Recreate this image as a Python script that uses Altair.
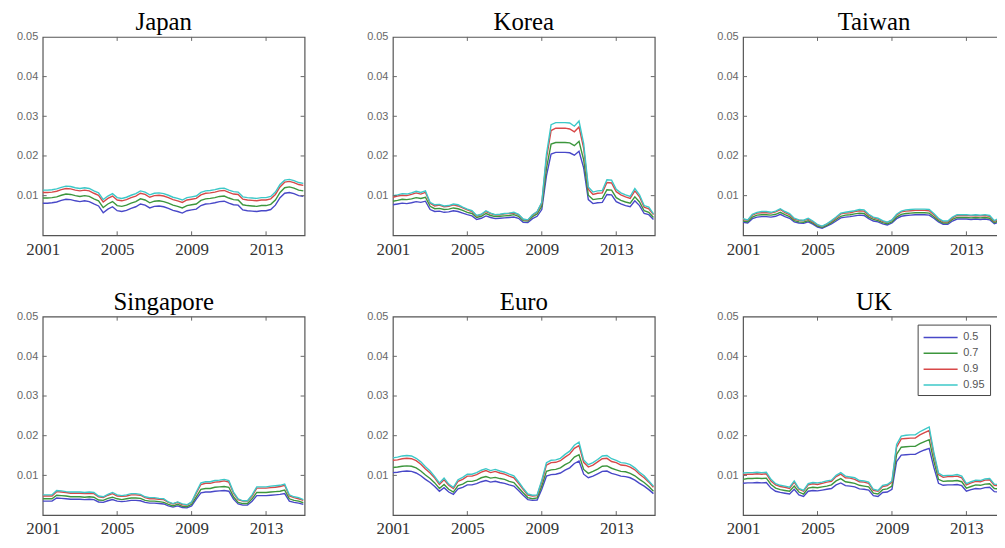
import altair as alt
import pandas as pd

# ---- time index (quarterly readings, 2001.00 ... 2015.00) ----
YEARS = [2001 + 0.25 * i for i in range(57)]
QUANTILES = ["0.5", "0.7", "0.9", "0.95"]
COLORS = ["#4848c8", "#3c963c", "#d84848", "#3cc8c8"]

X_LABELS = [2001, 2005, 2009, 2013]
X_INNER_TICKS = [2005, 2009, 2013]
Y_LABELS = [0.01, 0.02, 0.03, 0.04, 0.05]
Y_INNER_TICKS = [0.01, 0.02, 0.03, 0.04]

# ---- values, in units of 0.001 ----
JAPAN_50 = [8.1, 8.1, 8.2, 8.4, 8.8, 9.1, 9.0, 8.7, 8.5, 8.7,
            8.5, 7.9, 7.4, 5.7, 6.6, 7.2, 6.2, 6.0, 6.3, 6.8,
            7.2, 7.9, 7.6, 6.9, 7.3, 7.4, 7.2, 6.8, 6.3, 6.0,
            5.6, 6.2, 6.4, 6.6, 7.5, 7.9, 8.0, 8.2, 8.5, 8.6,
            8.1, 7.7, 7.6, 6.4, 6.2, 6.1, 6.0, 6.2, 6.2, 6.5,
            7.6, 9.5, 10.6, 10.8, 10.5, 10.0, 9.8]
JAPAN_70 = [9.4, 9.4, 9.5, 9.7, 10.1, 10.4, 10.3, 10.0, 9.8, 10.0,
            9.8, 9.2, 8.7, 7.0, 7.9, 8.5, 7.5, 7.3, 7.6, 8.1,
            8.5, 9.2, 8.9, 8.2, 8.6, 8.7, 8.5, 8.1, 7.6, 7.3,
            6.9, 7.5, 7.7, 7.9, 8.8, 9.2, 9.3, 9.5, 9.8, 9.9,
            9.4, 9.0, 8.9, 7.7, 7.5, 7.4, 7.3, 7.5, 7.5, 7.8,
            8.9, 10.8, 12.0, 12.2, 11.9, 11.4, 11.2]
JAPAN_90 = [10.8, 10.8, 10.9, 11.1, 11.5, 11.8, 11.7, 11.4, 11.2, 11.4,
            11.2, 10.6, 10.1, 8.4, 9.3, 9.9, 8.9, 8.7, 9.0, 9.5,
            9.9, 10.6, 10.3, 9.6, 10.0, 10.1, 9.9, 9.5, 9.0, 8.7,
            8.3, 8.9, 9.1, 9.3, 10.2, 10.6, 10.7, 10.9, 11.2, 11.3,
            10.8, 10.4, 10.3, 9.1, 8.9, 8.8, 8.7, 8.9, 8.9, 9.2,
            10.3, 12.2, 13.4, 13.6, 13.3, 12.8, 12.6]
JAPAN_95 = [11.4, 11.4, 11.5, 11.7, 12.1, 12.4, 12.3, 12.0, 11.8, 12.0,
            11.8, 11.2, 10.7, 9.0, 9.9, 10.5, 9.5, 9.3, 9.6, 10.1,
            10.5, 11.2, 10.9, 10.2, 10.6, 10.7, 10.5, 10.1, 9.6, 9.3,
            8.9, 9.5, 9.7, 9.9, 10.8, 11.2, 11.3, 11.5, 11.8, 11.9,
            11.4, 11.0, 10.9, 9.7, 9.5, 9.4, 9.3, 9.5, 9.5, 9.8,
            10.9, 12.8, 13.9, 14.1, 13.8, 13.3, 13.1]

KOREA_50 = [7.7, 7.9, 8.1, 8.0, 8.2, 8.5, 8.3, 8.6, 6.5, 6.0,
            6.1, 5.8, 5.9, 6.2, 6.0, 5.6, 5.2, 4.9, 4.0, 4.3,
            4.9, 4.5, 4.2, 4.3, 4.4, 4.5, 4.6, 4.3, 3.3, 3.2,
            4.2, 4.8, 6.5, 15.0, 20.5, 20.9, 20.9, 20.9, 20.8, 20.2,
            21.2, 17.0, 9.0, 8.0, 8.2, 8.3, 10.3, 10.2, 8.5, 7.9,
            7.5, 7.2, 8.7, 7.5, 5.5, 5.2, 4.0]
KOREA_70 = [8.6, 8.8, 9.1, 9.0, 9.2, 9.5, 9.3, 9.6, 7.3, 6.7,
            6.8, 6.5, 6.6, 6.9, 6.7, 6.3, 5.8, 5.5, 4.5, 4.8,
            5.5, 5.0, 4.7, 4.8, 4.9, 5.0, 5.2, 4.8, 3.7, 3.6,
            4.7, 5.4, 7.3, 16.8, 23.0, 23.4, 23.4, 23.4, 23.3, 22.6,
            23.7, 19.0, 10.1, 9.0, 9.2, 9.3, 11.5, 11.4, 9.5, 8.8,
            8.4, 8.1, 9.7, 8.4, 6.2, 5.8, 4.5]
KOREA_90 = [9.6, 9.9, 10.1, 10.0, 10.3, 10.7, 10.4, 10.8, 8.1, 7.4,
            7.6, 7.2, 7.3, 7.7, 7.4, 6.9, 6.4, 6.0, 4.9, 5.2,
            6.0, 5.5, 5.1, 5.2, 5.4, 5.5, 5.6, 5.2, 4.0, 3.8,
            5.1, 5.9, 8.1, 19.4, 26.4, 27.0, 27.0, 27.0, 26.8, 26.1,
            27.3, 21.9, 11.6, 10.3, 10.6, 10.7, 13.3, 13.2, 11.0, 10.2,
            9.7, 9.3, 11.2, 9.7, 7.1, 6.7, 5.2]
KOREA_95 = [10.0, 10.2, 10.5, 10.4, 10.7, 11.1, 10.8, 11.2, 8.3, 7.7,
            7.8, 7.4, 7.5, 7.9, 7.7, 7.1, 6.6, 6.2, 5.0, 5.3,
            6.2, 5.6, 5.2, 5.3, 5.5, 5.6, 5.8, 5.3, 4.1, 3.9,
            5.2, 6.0, 8.3, 20.4, 27.9, 28.4, 28.4, 28.4, 28.3, 27.5,
            28.8, 23.1, 12.2, 10.9, 11.2, 11.3, 14.0, 13.9, 11.6, 10.7,
            10.2, 9.8, 11.8, 10.2, 7.5, 7.1, 5.4]

TAIWAN_50 = [3.3, 3.1, 4.2, 4.6, 4.7, 4.7, 4.6, 4.8, 5.3, 4.7,
             4.3, 3.4, 3.1, 3.0, 3.4, 2.8, 2.1, 1.8, 2.3, 2.9,
             3.6, 4.4, 4.6, 4.7, 4.9, 5.1, 5.0, 4.2, 3.6, 3.4,
             2.9, 2.6, 3.1, 4.2, 4.8, 5.0, 5.1, 5.2, 5.2, 5.2,
             5.1, 4.3, 3.4, 2.8, 2.8, 3.6, 4.1, 4.1, 4.1, 4.0,
             4.1, 4.0, 4.1, 3.9, 2.9, 3.4, 3.6]
TAIWAN_70 = [3.6, 3.4, 4.6, 5.1, 5.2, 5.2, 5.1, 5.3, 5.8, 5.2,
             4.7, 3.7, 3.4, 3.3, 3.7, 3.1, 2.3, 2.0, 2.5, 3.2,
             4.0, 4.8, 5.1, 5.2, 5.4, 5.6, 5.5, 4.6, 4.0, 3.7,
             3.2, 2.9, 3.4, 4.6, 5.3, 5.5, 5.6, 5.7, 5.7, 5.7,
             5.6, 4.7, 3.7, 3.1, 3.1, 4.0, 4.5, 4.5, 4.5, 4.4,
             4.5, 4.4, 4.5, 4.3, 3.2, 3.7, 4.0]
TAIWAN_90 = [4.0, 3.8, 5.1, 5.6, 5.7, 5.7, 5.6, 5.9, 6.5, 5.7,
             5.2, 4.1, 3.8, 3.7, 4.1, 3.4, 2.6, 2.2, 2.8, 3.5,
             4.4, 5.4, 5.6, 5.7, 6.0, 6.2, 6.1, 5.1, 4.4, 4.1,
             3.5, 3.2, 3.8, 5.1, 5.9, 6.1, 6.2, 6.3, 6.3, 6.3,
             6.2, 5.2, 4.1, 3.4, 3.4, 4.4, 5.0, 5.0, 5.0, 4.9,
             5.0, 4.9, 5.0, 4.8, 3.5, 4.1, 4.4]
TAIWAN_95 = [4.2, 3.9, 5.3, 5.8, 6.0, 6.0, 5.8, 6.1, 6.7, 6.0,
             5.5, 4.3, 3.9, 3.8, 4.3, 3.6, 2.7, 2.3, 2.9, 3.7,
             4.6, 5.6, 5.8, 6.0, 6.2, 6.5, 6.4, 5.3, 4.6, 4.3,
             3.7, 3.3, 3.9, 5.3, 6.1, 6.4, 6.5, 6.6, 6.6, 6.6,
             6.5, 5.5, 4.3, 3.6, 3.6, 4.6, 5.2, 5.2, 5.2, 5.1,
             5.2, 5.1, 5.2, 5.0, 3.7, 4.3, 4.6]

SINGAPORE_50 = [3.5, 3.5, 3.5, 4.3, 4.2, 4.1, 4.0, 4.0, 4.0, 3.9,
                4.0, 3.9, 3.3, 3.2, 3.6, 3.9, 3.5, 3.4, 3.5, 3.7,
                3.7, 3.6, 3.2, 3.0, 3.0, 2.9, 2.8, 2.3, 2.0, 2.3,
                1.9, 1.8, 2.3, 4.0, 5.6, 5.8, 5.8, 6.0, 6.1, 6.2,
                6.0, 4.0, 2.8, 2.5, 2.5, 3.5, 4.9, 4.9, 4.9, 5.0,
                5.1, 5.2, 5.4, 3.5, 3.2, 3.0, 2.7]
SINGAPORE_70 = [4.1, 4.1, 4.1, 5.0, 4.9, 4.8, 4.6, 4.6, 4.6, 4.5,
                4.6, 4.5, 3.8, 3.7, 4.2, 4.5, 4.1, 3.9, 4.1, 4.3,
                4.3, 4.2, 3.7, 3.5, 3.5, 3.4, 3.2, 2.7, 2.3, 2.7,
                2.2, 2.1, 2.7, 4.6, 6.5, 6.7, 6.7, 7.0, 7.1, 7.2,
                7.0, 4.6, 3.2, 2.9, 2.9, 4.1, 5.7, 5.7, 5.7, 5.8,
                5.9, 6.0, 6.3, 4.1, 3.7, 3.5, 3.1]
SINGAPORE_90 = [4.8, 4.8, 4.8, 5.9, 5.8, 5.7, 5.5, 5.5, 5.5, 5.4,
                5.5, 5.4, 4.6, 4.4, 5.0, 5.4, 4.8, 4.7, 4.8, 5.1,
                5.1, 5.0, 4.4, 4.1, 4.1, 4.0, 3.9, 3.2, 2.8, 3.2,
                2.6, 2.5, 3.2, 5.5, 7.7, 8.0, 8.0, 8.3, 8.4, 8.6,
                8.3, 5.5, 3.9, 3.5, 3.5, 4.8, 6.8, 6.8, 6.8, 6.9,
                7.0, 7.2, 7.5, 4.8, 4.4, 4.1, 3.7]
SINGAPORE_95 = [5.1, 5.1, 5.1, 6.2, 6.1, 5.9, 5.8, 5.8, 5.8, 5.7,
                5.8, 5.7, 4.8, 4.6, 5.2, 5.7, 5.1, 4.9, 5.1, 5.4,
                5.4, 5.2, 4.6, 4.4, 4.4, 4.2, 4.1, 3.3, 2.9, 3.3,
                2.8, 2.6, 3.3, 5.8, 8.1, 8.4, 8.4, 8.7, 8.8, 9.0,
                8.7, 5.8, 4.1, 3.6, 3.6, 5.1, 7.1, 7.1, 7.1, 7.3,
                7.4, 7.5, 7.8, 5.1, 4.6, 4.4, 3.9]

EURO_50 = [10.7, 10.8, 11.0, 11.1, 11.0, 10.6, 9.9, 9.0, 8.2, 7.2,
           6.0, 6.9, 5.8, 5.2, 6.6, 7.0, 7.6, 7.6, 7.9, 8.4,
           8.7, 8.3, 8.5, 8.2, 8.0, 7.6, 7.3, 6.2, 5.0, 3.9,
           3.7, 3.8, 6.5, 9.8, 10.2, 10.3, 10.6, 11.3, 11.9, 13.0,
           13.6, 10.3, 9.4, 9.8, 10.4, 11.0, 11.1, 10.5, 10.2, 9.8,
           9.7, 9.4, 8.8, 8.0, 7.3, 6.4, 5.4]
EURO_70 = [12.0, 12.1, 12.3, 12.4, 12.3, 11.9, 11.1, 10.1, 9.2, 8.1,
           6.7, 7.7, 6.5, 5.8, 7.4, 7.8, 8.5, 8.5, 8.8, 9.4,
           9.7, 9.3, 9.5, 9.2, 9.0, 8.5, 8.2, 6.9, 5.6, 4.4,
           4.1, 4.3, 7.3, 11.0, 11.4, 11.5, 11.9, 12.7, 13.3, 14.6,
           15.2, 11.5, 10.5, 11.0, 11.6, 12.3, 12.4, 11.8, 11.4, 11.0,
           10.9, 10.5, 9.9, 9.0, 8.2, 7.2, 6.0]
EURO_90 = [13.8, 13.9, 14.2, 14.3, 14.2, 13.7, 12.8, 11.6, 10.6, 9.3,
           7.7, 8.9, 7.5, 6.7, 8.5, 9.0, 9.8, 9.8, 10.2, 10.8,
           11.2, 10.7, 11.0, 10.6, 10.3, 9.8, 9.4, 8.0, 6.5, 5.0,
           4.8, 4.9, 8.4, 12.6, 13.2, 13.3, 13.7, 14.6, 15.4, 16.8,
           17.5, 13.3, 12.1, 12.6, 13.4, 14.2, 14.3, 13.5, 13.2, 12.6,
           12.5, 12.1, 11.4, 10.3, 9.4, 8.3, 7.0]
EURO_95 = [14.4, 14.6, 14.9, 15.0, 14.9, 14.3, 13.4, 12.2, 11.1, 9.7,
           8.1, 9.3, 7.8, 7.0, 8.9, 9.5, 10.3, 10.3, 10.7, 11.3,
           11.7, 11.2, 11.5, 11.1, 10.8, 10.3, 9.9, 8.4, 6.8, 5.3,
           5.0, 5.1, 8.8, 13.2, 13.8, 13.9, 14.3, 15.3, 16.1, 17.6,
           18.4, 13.9, 12.7, 13.2, 14.0, 14.9, 15.0, 14.2, 13.8, 13.2,
           13.1, 12.7, 11.9, 10.8, 9.9, 8.6, 7.3]

UK_50 = [8.0, 8.1, 8.1, 8.2, 8.1, 8.2, 6.8, 6.0, 5.7, 5.5,
         5.3, 6.5, 5.1, 4.7, 6.0, 6.2, 6.1, 6.3, 6.5, 6.7,
         7.6, 8.1, 7.4, 7.3, 7.1, 6.6, 6.5, 6.3, 4.9, 4.7,
         5.7, 5.8, 6.5, 13.5, 15.1, 15.2, 15.3, 15.3, 15.9, 16.4,
         16.8, 12.0, 8.0, 7.5, 7.6, 7.6, 7.7, 7.4, 6.0, 6.4,
         6.7, 6.6, 6.9, 7.0, 5.9, 5.8, 5.8]
UK_70 = [9.0, 9.2, 9.2, 9.3, 9.2, 9.3, 7.7, 6.8, 6.4, 6.2,
         6.0, 7.3, 5.8, 5.3, 6.8, 7.0, 6.9, 7.1, 7.3, 7.6,
         8.6, 9.2, 8.4, 8.2, 8.0, 7.5, 7.3, 7.1, 5.5, 5.3,
         6.4, 6.6, 7.3, 15.3, 17.1, 17.2, 17.3, 17.3, 18.0, 18.5,
         19.0, 13.6, 9.0, 8.5, 8.6, 8.6, 8.7, 8.4, 6.8, 7.2,
         7.6, 7.5, 7.8, 7.9, 6.7, 6.6, 6.6]
UK_90 = [10.2, 10.3, 10.3, 10.4, 10.3, 10.4, 8.6, 7.6, 7.2, 7.0,
         6.7, 8.3, 6.5, 6.0, 7.6, 7.9, 7.7, 8.0, 8.3, 8.5,
         9.7, 10.3, 9.4, 9.3, 9.0, 8.4, 8.3, 8.0, 6.2, 6.0,
         7.2, 7.4, 8.3, 17.1, 19.2, 19.3, 19.4, 19.4, 20.2, 20.8,
         21.3, 15.2, 10.2, 9.5, 9.7, 9.7, 9.8, 9.4, 7.6, 8.1,
         8.5, 8.4, 8.8, 8.9, 7.5, 7.4, 7.4]
UK_95 = [10.6, 10.7, 10.7, 10.8, 10.7, 10.8, 9.0, 7.9, 7.5, 7.3,
         7.0, 8.6, 6.7, 6.2, 7.9, 8.2, 8.1, 8.3, 8.6, 8.8,
         10.0, 10.7, 9.8, 9.6, 9.4, 8.7, 8.6, 8.3, 6.5, 6.2,
         7.5, 7.7, 8.6, 17.8, 19.9, 20.1, 20.2, 20.2, 21.0, 21.6,
         22.2, 15.8, 10.6, 9.9, 10.0, 10.0, 10.2, 9.8, 7.9, 8.4,
         8.8, 8.7, 9.1, 9.2, 7.8, 7.7, 7.7]

PANELS = [
    ("Japan", [JAPAN_50, JAPAN_70, JAPAN_90, JAPAN_95]),
    ("Korea", [KOREA_50, KOREA_70, KOREA_90, KOREA_95]),
    ("Taiwan", [TAIWAN_50, TAIWAN_70, TAIWAN_90, TAIWAN_95]),
    ("Singapore", [SINGAPORE_50, SINGAPORE_70, SINGAPORE_90, SINGAPORE_95]),
    ("Euro", [EURO_50, EURO_70, EURO_90, EURO_95]),
    ("UK", [UK_50, UK_70, UK_90, UK_95]),
]

# ---- layout / style ----
W, H = 264, 200
X_DOMAIN = [2001, 2015.07]
Y_DOMAIN = [0, 0.05]
TICK_COLOR = "#666666"
TICK_LEN = 4
SERIF = "Liberation Serif, Times New Roman, serif"
SANS = "Liberation Sans, Arial, sans-serif"

X_SCALE = alt.Scale(domain=X_DOMAIN, nice=False, zero=False)
Y_SCALE = alt.Scale(domain=Y_DOMAIN, nice=False, zero=False)

X_AXIS = alt.Axis(values=X_LABELS, format="d", title=None, grid=False,
                  ticks=False, domain=False, labelFlush=False,
                  labelOverlap=False, labelFont=SERIF,
                  labelFontSize=17, labelColor="#333333",
                  labelPadding=6, minExtent=26, maxExtent=26)
Y_AXIS = alt.Axis(values=Y_LABELS, format=".2f", title=None, grid=False,
                  ticks=False, domain=False, labelOverlap=False,
                  labelFont=SANS, labelFontSize=11,
                  labelColor="#666666", labelPadding=5,
                  minExtent=34, maxExtent=34)


def panel(name, series, show_legend=False, title_dx=0):
    rows = []
    for q, vals in zip(QUANTILES, series):
        for yr, v in zip(YEARS, vals):
            rows.append({"year": yr, "value": v / 1000.0, "q": q})
    df = pd.DataFrame(rows)

    if show_legend:
        leg = alt.Legend(
            title=None, orient="none", legendX=176, legendY=8, direction="vertical",
            symbolType="M-1,0H3.9", symbolSize=196, symbolStrokeWidth=1.5,
            labelOffset=25, labelFont=SANS, labelFontSize=11,
            labelColor="#555555", strokeColor="#444444", fillColor="#ffffff",
            padding=5, rowPadding=3, cornerRadius=0,
        )
    else:
        leg = None

    lines = alt.Chart(df).mark_line(strokeWidth=1.4, clip=True).encode(
        x=alt.X("year:Q", scale=X_SCALE, axis=X_AXIS),
        y=alt.Y("value:Q", scale=Y_SCALE, axis=Y_AXIS),
        color=alt.Color("q:N", scale=alt.Scale(domain=QUANTILES, range=COLORS),
                        legend=leg),
    )

    xt = pd.DataFrame({"t": X_INNER_TICKS})
    yt = pd.DataFrame({"t": Y_INNER_TICKS})

    bottom = alt.Chart(xt).mark_rule(color=TICK_COLOR, y2Offset=-TICK_LEN).encode(
        x=alt.X("t:Q", scale=X_SCALE, axis=X_AXIS),
        y=alt.YDatum(Y_DOMAIN[0], scale=Y_SCALE, axis=Y_AXIS),
        y2=alt.Y2Datum(Y_DOMAIN[0]),
    )
    top = alt.Chart(xt).mark_rule(color=TICK_COLOR, y2Offset=TICK_LEN).encode(
        x=alt.X("t:Q", scale=X_SCALE, axis=X_AXIS),
        y=alt.YDatum(Y_DOMAIN[1], scale=Y_SCALE, axis=Y_AXIS),
        y2=alt.Y2Datum(Y_DOMAIN[1]),
    )
    left = alt.Chart(yt).mark_rule(color=TICK_COLOR, x2Offset=TICK_LEN).encode(
        y=alt.Y("t:Q", scale=Y_SCALE, axis=Y_AXIS),
        x=alt.XDatum(X_DOMAIN[0], scale=X_SCALE, axis=X_AXIS),
        x2=alt.X2Datum(X_DOMAIN[0]),
    )
    right = alt.Chart(yt).mark_rule(color=TICK_COLOR, x2Offset=-TICK_LEN).encode(
        y=alt.Y("t:Q", scale=Y_SCALE, axis=Y_AXIS),
        x=alt.XDatum(X_DOMAIN[1], scale=X_SCALE, axis=X_AXIS),
        x2=alt.X2Datum(X_DOMAIN[1]),
    )

    return alt.layer(lines, bottom, top, left, right).properties(
        width=W, height=H,
        title=alt.TitleParams(name, anchor="middle", frame="group", dx=title_dx),
    )


charts = [
    panel(n, s, show_legend=(n == "UK"), title_dx=(-10 if i % 3 == 0 else 0))
    for i, (n, s) in enumerate(PANELS)
]

row1 = alt.hconcat(*charts[:3], spacing=52).resolve_scale(color="independent").resolve_legend(color="independent")
row2 = alt.hconcat(*charts[3:], spacing=52).resolve_scale(color="independent").resolve_legend(color="independent")

chart = (
    alt.vconcat(row1, row2, spacing=27)
    .resolve_scale(color="independent")
    .resolve_legend(color="independent")
    .properties(padding={"left": 0, "top": -1, "right": -10, "bottom": -2})
    .configure_view(stroke="#555555", strokeWidth=1.2)
    .configure_title(font=SERIF, fontSize=25, fontWeight="normal",
                     color="#000000", offset=-4, anchor="middle")
)

chart.save("out.html", embed_options={"renderer": "svg", "actions": False})
